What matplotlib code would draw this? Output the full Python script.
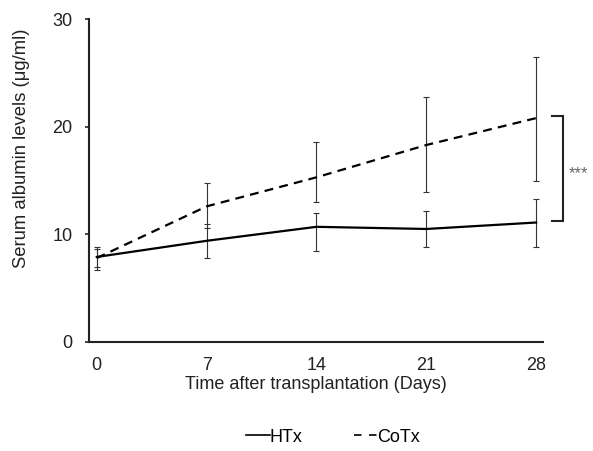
import matplotlib.pyplot as plt
from matplotlib.lines import Line2D

plt.rcParams['font.family'] = ['Liberation Sans', 'DejaVu Sans']

days = [0, 7, 14, 21, 28]

# HTx mean and error bar ends
htx = [7.9, 9.4, 10.7, 10.5, 11.1]
htx_hi = [8.8, 11.0, 12.0, 12.2, 13.3]
htx_lo = [7.0, 7.8, 8.5, 8.8, 8.8]

# CoTx mean and error bar ends
cotx = [7.8, 12.6, 15.3, 18.3, 20.8]
cotx_hi = [8.6, 14.8, 18.6, 22.8, 26.5]
cotx_lo = [6.7, 10.6, 13.0, 13.9, 15.0]

fig = plt.figure(figsize=(5.93, 4.51), dpi=100)
ax = fig.add_axes([0.150, 0.2417, 0.766, 0.716])

htx_err = [[m - l for m, l in zip(htx, htx_lo)], [h - m for m, h in zip(htx, htx_hi)]]
cotx_err = [[m - l for m, l in zip(cotx, cotx_lo)], [h - m for m, h in zip(cotx, cotx_hi)]]

ax.errorbar(days, htx, yerr=htx_err, color='black', lw=1.6, elinewidth=0.8,
            capsize=2, capthick=0.8, ecolor='#333333', label='HTx')
ax.errorbar(days, cotx, yerr=cotx_err, color='black', lw=1.6, elinewidth=0.8,
            capsize=2, capthick=0.8, ecolor='#333333', dashes=(4, 2.8), label='CoTx')

ax.set_xlim(-0.5, 28.45)
ax.set_ylim(0, 30)
ax.set_xticks(days)
ax.set_yticks([0, 10, 20, 30])
ax.tick_params(axis='x', length=0, labelsize=13, pad=11, colors='#222222')
ax.tick_params(axis='y', length=3, width=1.2, labelsize=13, pad=9, colors='#222222')
for s in ['top', 'right']:
    ax.spines[s].set_visible(False)
for s in ['left', 'bottom']:
    ax.spines[s].set_linewidth(1.5)
    ax.spines[s].set_color('#222222')

ax.set_xlabel('Time after transplantation (Days)', fontsize=13, labelpad=1, color='#222222')
ax.set_ylabel('Serum albumin levels (μg/ml)', fontsize=13.3, labelpad=16, color='#222222', y=0.6)

# significance bracket
ax.plot([29.0, 29.7, 29.7, 29.0], [21.0, 21.0, 11.2, 11.2], color='#222222', lw=1.5,
        clip_on=False, solid_joinstyle='miter')
ax.text(30.1, 15.6, '***', fontsize=12, color='#666666', va='center', ha='left', clip_on=False)

handles = [Line2D([], [], color='black', lw=1.2),
           Line2D([], [], color='black', lw=1.2, dashes=(4.5, 4.5))]
fig.legend(handles, ['HTx', 'CoTx'], loc='center', bbox_to_anchor=(0.562, 0.031), ncol=2,
           frameon=False, handlelength=1.3, handletextpad=0.0, columnspacing=2.85, fontsize=13)

fig.savefig('out.png', dpi=100)
